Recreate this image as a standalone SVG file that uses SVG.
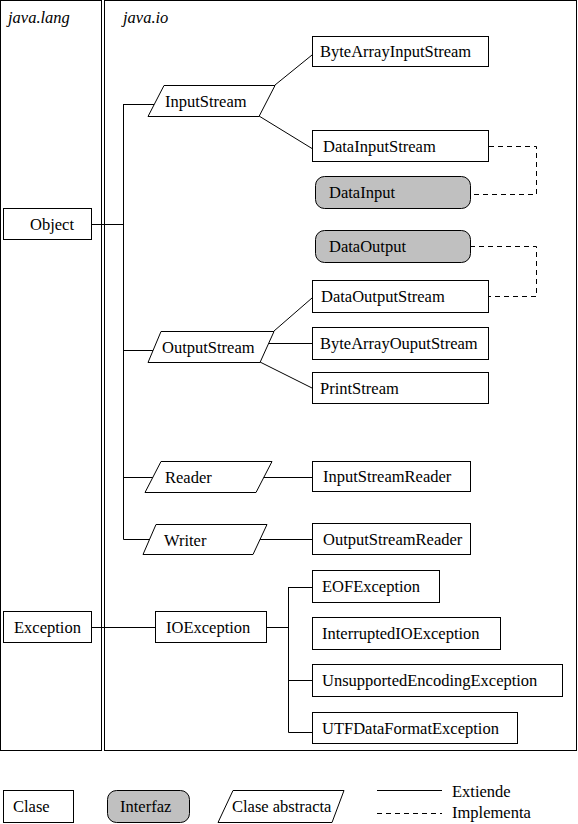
<svg xmlns="http://www.w3.org/2000/svg" width="578" height="824" viewBox="0 0 578 824">
<style>
text{font-family:"Liberation Serif","Times New Roman",serif;font-size:16.5px;fill:#000}
.pkg{font-style:italic}
.box{fill:#fff;stroke:#000;stroke-width:1}
.iface{fill:#c0c0c0;stroke:#000;stroke-width:1}
.ln{fill:none;stroke:#000;stroke-width:1}
.dash{fill:none;stroke:#000;stroke-width:1;stroke-dasharray:5 4}
</style>
<rect width="578" height="824" fill="#fff"/>
<g id="panels">
<rect class="box" x="0.5" y="0.5" width="101" height="750"/>
<rect class="box" x="104.5" y="0.5" width="472" height="750"/>
<text class="pkg" x="8" y="23">java.lang</text>
<text class="pkg" x="123" y="23">java.io</text>
</g>
<g id="connectors">
<path class="ln" d="M92 224.5H123.5M123.5 104V539.5M123.5 104.5H154M123.5 350.5H153M123.5 477.5H153M123.5 539.5H150"/>
<path class="ln" d="M275 85L312 55M259 116L312 148.5M274 331L312 298M269 343.5H312M260 362L312 388M263 477.5H312M260 539.5H312"/>
<path class="ln" d="M92 627.5H155M266 627.5H288.5M288.5 587V732.5M288.5 587.5H312M288.5 680.5H312M288.5 732.5H312"/>
<path class="dash" d="M489 146.5H536.5V194.5H470M470 246.5H536.5V296.5H489"/>
</g>
<g id="Object"><rect class="box" x="3.5" y="208.5" width="88" height="31"/><text x="30" y="230">Object</text></g>
<g id="Exception"><rect class="box" x="3.5" y="611.5" width="88" height="31"/><text x="14" y="633">Exception</text></g>
<g id="InputStream"><polygon class="box" points="164,85.5 275,85.5 259,116.5 148,116.5"/><text x="165" y="107">InputStream</text></g>
<g id="OutputStream"><polygon class="box" points="161,331.5 274,331.5 260,362.5 148,362.5"/><text x="162" y="353">OutputStream</text></g>
<g id="Reader"><polygon class="box" points="161,461.5 272,461.5 256,492.5 145,492.5"/><text x="165" y="483">Reader</text></g>
<g id="Writer"><polygon class="box" points="156,524.5 267,524.5 253,554.5 143,554.5"/><text x="164" y="546">Writer</text></g>
<g id="ByteArrayInputStream"><rect class="box" x="312.5" y="36.5" width="176" height="30"/><text x="320" y="57">ByteArrayInputStream</text></g>
<g id="DataInputStream"><rect class="box" x="312.5" y="130.5" width="176" height="31"/><text x="323" y="152">DataInputStream</text></g>
<g id="DataInput"><rect class="iface" x="315.5" y="176.5" width="155" height="32" rx="9"/><text x="329" y="198">DataInput</text></g>
<g id="DataOutput"><rect class="iface" x="315.5" y="230.5" width="155" height="32" rx="9"/><text x="329" y="252">DataOutput</text></g>
<g id="DataOutputStream"><rect class="box" x="312.5" y="280.5" width="176" height="32"/><text x="321" y="302">DataOutputStream</text></g>
<g id="ByteArrayOuputStream"><rect class="box" x="312.5" y="327.5" width="176" height="32"/><text x="320" y="349">ByteArrayOuputStream</text></g>
<g id="PrintStream"><rect class="box" x="312.5" y="372.5" width="176" height="31"/><text x="320" y="394">PrintStream</text></g>
<g id="InputStreamReader"><rect class="box" x="312.5" y="461.5" width="158" height="30"/><text x="323" y="482">InputStreamReader</text></g>
<g id="OutputStreamReader"><rect class="box" x="312.5" y="523.5" width="158" height="31"/><text x="323" y="545">OutputStreamReader</text></g>
<g id="IOException"><rect class="box" x="155.5" y="611.5" width="111" height="31"/><text x="166" y="633">IOException</text></g>
<g id="EOFException"><rect class="box" x="312.5" y="570.5" width="127" height="32"/><text x="322" y="592">EOFException</text></g>
<g id="InterruptedIOException"><rect class="box" x="312.5" y="617.5" width="188" height="32"/><text x="322" y="639">InterruptedIOException</text></g>
<g id="UnsupportedEncodingException"><rect class="box" x="312.5" y="664.5" width="250" height="32"/><text x="322" y="686">UnsupportedEncodingException</text></g>
<g id="UTFDataFormatException"><rect class="box" x="312.5" y="712.5" width="205" height="31"/><text x="322" y="734">UTFDataFormatException</text></g>
<g id="legend">
<rect class="box" x="3.5" y="790.5" width="70" height="32"/><text x="13" y="812">Clase</text>
<rect class="iface" x="107.5" y="790.5" width="82" height="32" rx="9"/><text x="120" y="812">Interfaz</text>
<polygon class="box" points="233,790.5 344,790.5 332,822.5 218,822.5"/><text x="232" y="812">Clase abstracta</text>
<path class="ln" d="M377 790.5H442"/><text x="452" y="797">Extiende</text>
<path class="dash" d="M377 813.5H442"/><text x="452" y="818">Implementa</text>
</g>
</svg>
